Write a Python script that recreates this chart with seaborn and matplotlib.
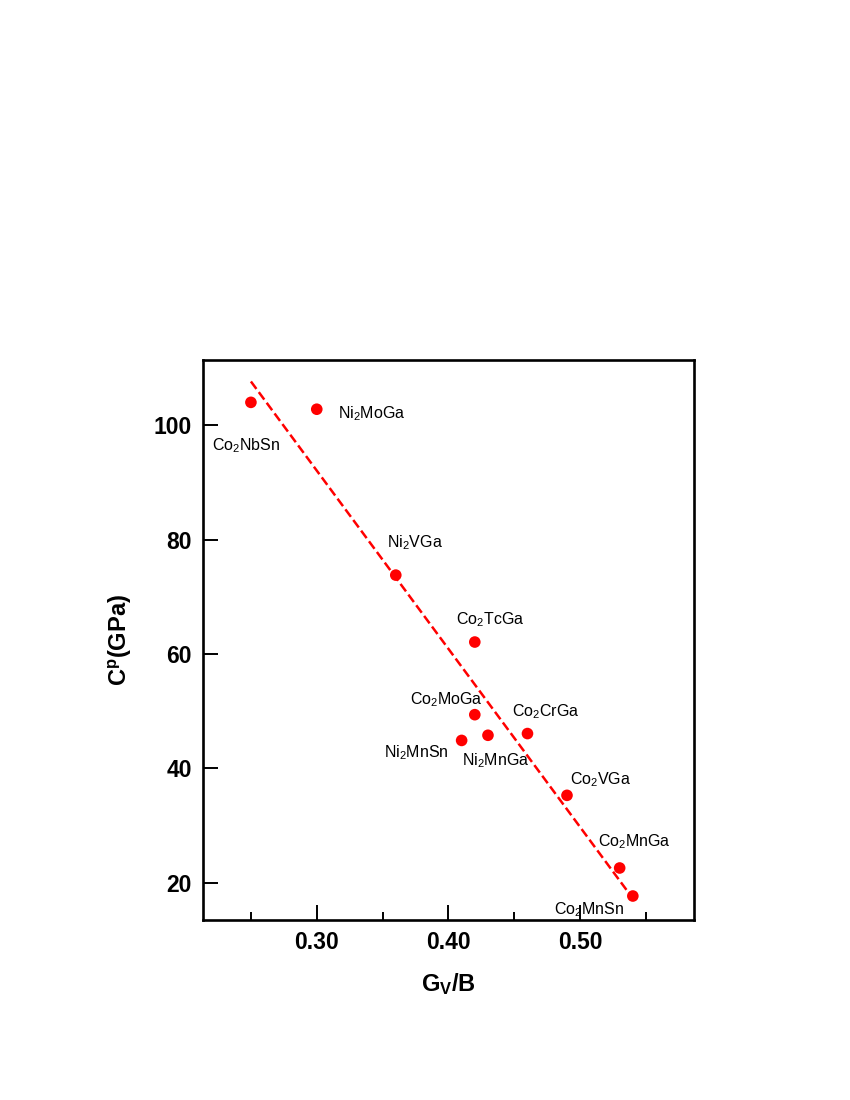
import numpy as np
import pandas as pd
import seaborn as sns
import matplotlib.pyplot as plt

# data
compounds = ["Co$_2$NbSn", "Ni$_2$MoGa", "Ni$_2$VGa", "Co$_2$TcGa", "Co$_2$MoGa",
             "Ni$_2$MnSn", "Ni$_2$MnGa", "Co$_2$CrGa", "Co$_2$VGa", "Co$_2$MnGa",
             "Co$_2$MnSn"]
gv_b = [0.25, 0.30, 0.36, 0.42, 0.42, 0.41, 0.43, 0.46, 0.49, 0.53, 0.54]
cp = [104.0, 102.8, 73.8, 62.1, 49.4, 44.9, 45.8, 46.1, 35.3, 22.6, 17.7]

# label anchors (data coords) and alignment
label_x = [0.2462, 0.3159, 0.3742, 0.4316, 0.3987, 0.376, 0.4361, 0.4735, 0.5159, 0.5409, 0.5068]
label_y = [96.5, 102.1, 79.4, 66.1, 52.1, 42.7, 41.3, 50.0, 38.0, 27.2, 15.3]
label_ha = ["center", "left", "center", "center", "center", "center",
            "center", "center", "center", "center", "center"]

df = pd.DataFrame({"gv_b": gv_b, "cp": cp, "name": compounds})

sns.set_style("ticks")
plt.rcParams["font.family"] = ["Liberation Sans", "DejaVu Sans"]
plt.rcParams["mathtext.fontset"] = "custom"
plt.rcParams["mathtext.rm"] = "Liberation Sans"
plt.rcParams["mathtext.it"] = "Liberation Sans:italic"
plt.rcParams["mathtext.bf"] = "Liberation Sans:bold"
for k in ["text.color", "axes.labelcolor", "xtick.color", "ytick.color"]:
    plt.rcParams[k] = "black"

fig = plt.figure(figsize=(8.5, 11), dpi=100)
ax = fig.add_axes([0.2388, 0.1636, 0.5776, 0.5091])

sns.regplot(data=df, x="gv_b", y="cp", scatter=False, ci=None, color="#ff0000",
            line_kws={"ls": "--", "lw": 1.8}, ax=ax)
sns.scatterplot(data=df, x="gv_b", y="cp", color="#ff0000", s=70,
                edgecolor="none", ax=ax, zorder=3)

for name, tx, ty, ha in zip(compounds, label_x, label_y, label_ha):
    ax.text(tx, ty, name, ha=ha, va="center", fontsize=11.5, color="black")

ax.set_xlim(0.2136, 0.5864)
ax.set_ylim(13.5, 111.4)
ax.set_xticks([0.30, 0.40, 0.50])
ax.set_xticklabels(["0.30", "0.40", "0.50"])
ax.set_xticks([0.25, 0.35, 0.45, 0.55], minor=True)
ax.set_yticks([20, 40, 60, 80, 100])

ax.tick_params(axis="both", which="major", direction="in", length=10.5, width=1.4,
               labelsize=16.5, pad=8, color="black", labelcolor="black")
ax.tick_params(axis="x", which="minor", direction="in", length=6, width=1.4, color="black")
ax.tick_params(top=False, right=False)
for lab in ax.get_xticklabels() + ax.get_yticklabels():
    lab.set_fontweight("bold")

for sp in ax.spines.values():
    sp.set_linewidth(1.9)
    sp.set_color("black")

ax.set_xlabel(r"$\mathbf{G_V}$/B", fontsize=17, fontweight="bold", labelpad=12)
ax.set_ylabel(r"$\mathbf{C^p}$(GPa)", fontsize=17, fontweight="bold", labelpad=14)

plt.savefig("out.png", dpi=100)
